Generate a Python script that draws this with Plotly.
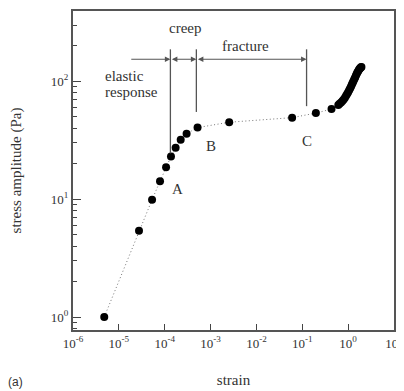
import numpy as np
import plotly.graph_objects as go

# Data
strain = [4.8e-6, 2.75e-5, 5.3e-5, 7.9e-5, 1.07e-4, 1.37e-4, 1.73e-4, 2.23e-4,
          3.0e-4, 5.2e-4, 2.55e-3, 0.06, 0.198, 0.434, 0.61]
stress = [1.0, 5.4, 9.9, 14.2, 18.7, 23.0, 27.3, 31.9,
          36.0, 40.5, 45.0, 49.2, 53.8, 58.2, 62.9]

# dense tail (fracture region)
tail_strain = [0.65, 0.70, 0.75, 0.80, 0.85, 0.90, 0.95, 1.00, 1.05, 1.10, 1.15, 1.20,
               1.25, 1.30, 1.36, 1.42, 1.48, 1.54, 1.60, 1.66, 1.72, 1.78, 1.84, 1.90, 1.95]
tail_stress = [64.5, 66, 68, 70, 72.5, 75.5, 78, 81, 84, 87, 90, 93.5,
               97, 100, 104, 108, 112, 116, 119.5, 122.5, 125.5, 128, 130, 131.5, 132.5]

x_tickvals = [1e-6, 1e-5, 1e-4, 1e-3, 1e-2, 1e-1, 1e0, 1e1]
x_ticktext = ["10<sup>-6</sup>", "10<sup>-5</sup>", "10<sup>-4</sup>", "10<sup>-3</sup>",
              "10<sup>-2</sup>", "10<sup>-1</sup>", "10<sup>0</sup>", "10<sup>1</sup>"]
y_tickvals = [1, 10, 100]
y_ticktext = ["10<sup>0</sup>", "10<sup>1</sup>", "10<sup>2</sup>"]
y_minor = [m * 10 ** d for d in (-1, 0, 1, 2) for m in range(2, 10)]

# region boundaries (strain) and bracket levels (stress)
bound_A = 1.33e-4
bound_B = 4.9e-4
bound_C = 0.124
arrow_left = 1.73e-5
arrow_level = 154
line_top = 187
A_bottom, B_bottom, C_bottom = 24.5, 55, 61.6

FONT = "Liberation Serif, Times New Roman, serif"
INK = "#333333"

fig = go.Figure()
all_x = strain + tail_strain
all_y = stress + tail_stress
fig.add_trace(go.Scatter(x=all_x, y=all_y, mode="lines",
                         line=dict(color="#777777", width=1, dash="1px,2.5px"),
                         hoverinfo="skip", showlegend=False))
fig.add_trace(go.Scatter(x=all_x, y=all_y, mode="markers",
                         marker=dict(color="black", size=8),
                         showlegend=False))

# vertical boundary lines
for bx, bb in [(bound_A, A_bottom), (bound_B, B_bottom), (bound_C, C_bottom)]:
    fig.add_shape(type="line", x0=bx, x1=bx, y0=bb, y1=line_top, xref="x", yref="y",
                  line=dict(color="#555555", width=1.3))

L = np.log10
ly = L(arrow_level)
arrow_style = dict(showarrow=True, arrowhead=2, arrowsize=1, arrowwidth=1.1,
                   arrowcolor="#555555", xref="x", yref="y", axref="x", ayref="y", text="")
# elastic -> A
fig.add_annotation(x=L(bound_A), y=ly, ax=L(arrow_left), ay=ly, **arrow_style)
# creep <-> between A and B
fig.add_annotation(x=L(bound_B), y=ly, ax=L(bound_A), ay=ly, arrowside="end+start", **arrow_style)
# fracture <-> between B and C
fig.add_annotation(x=L(bound_C), y=ly, ax=L(bound_B), ay=ly, arrowside="end+start", **arrow_style)

# page body has an 8px margin: the figure is drawn offset by OFF px
OFF = 8
W, H = 404 - OFF, 391 - OFF
ml, mr, mt, mb = 73 - OFF, 8, 1, 61
pw, ph = W - ml - mr, H - mt - mb


def px2paper(sx, sy):
    fx, fy = sx - OFF, sy - OFF
    return (fx - ml) / pw, 1 - (fy - mt) / ph


labels = [
    ("creep", 186, 26, "center"),
    ("fracture", 247, 44, "center"),
    ("elastic", 103, 74, "left"),
    ("response", 103, 91, "left"),
    ("A", 178, 188, "center"),
    ("B", 212, 145, "center"),
    ("C", 308, 140, "center"),
]
for txt, sx, sy, al in labels:
    px, py = px2paper(sx, sy)
    fig.add_annotation(x=px, y=py, xref="paper", yref="paper", text=txt, showarrow=False,
                       xanchor=al, yanchor="middle",
                       font=dict(family=FONT, size=15, color=INK))

px, py = px2paper(15, 382)
fig.add_annotation(x=px, y=py, xref="paper", yref="paper", text="(a)", showarrow=False,
                   xanchor="center", yanchor="middle",
                   font=dict(family="Liberation Sans, Arial, sans-serif", size=12, color=INK))

fig.update_layout(
    width=W, height=H,
    margin=dict(l=ml, r=mr, t=mt, b=mb),
    paper_bgcolor="white", plot_bgcolor="white",
    font=dict(family=FONT, size=13, color=INK),
)
fig.update_xaxes(
    type="log", range=[-6, 1], tickmode="array", tickvals=x_tickvals, ticktext=x_ticktext,
    ticks="inside", ticklen=6, tickwidth=1.3, tickcolor="#444444",
    showline=True, linecolor="#555555", linewidth=2, mirror=True,
    showgrid=False, zeroline=False, ticklabeloverflow="allow",
    tickfont=dict(family=FONT, size=13, color=INK),
    title=dict(text="strain", font=dict(family=FONT, size=15, color=INK), standoff=25),
)
fig.update_yaxes(
    type="log", range=[-0.11, 2.597], tickmode="array", tickvals=y_tickvals, ticktext=y_ticktext,
    ticks="inside", ticklen=8, tickwidth=1.3, tickcolor="#444444",
    minor=dict(ticks="inside", ticklen=4, tickwidth=1, tickcolor="#444444",
               tickmode="array", tickvals=y_minor),
    showline=True, linecolor="#555555", linewidth=2, mirror=True,
    showgrid=False, zeroline=False,
    tickfont=dict(family=FONT, size=13, color=INK),
    title=dict(text="stress amplitude (Pa)", font=dict(family=FONT, size=15, color=INK), standoff=27),
)

fig.write_html("out.html")
